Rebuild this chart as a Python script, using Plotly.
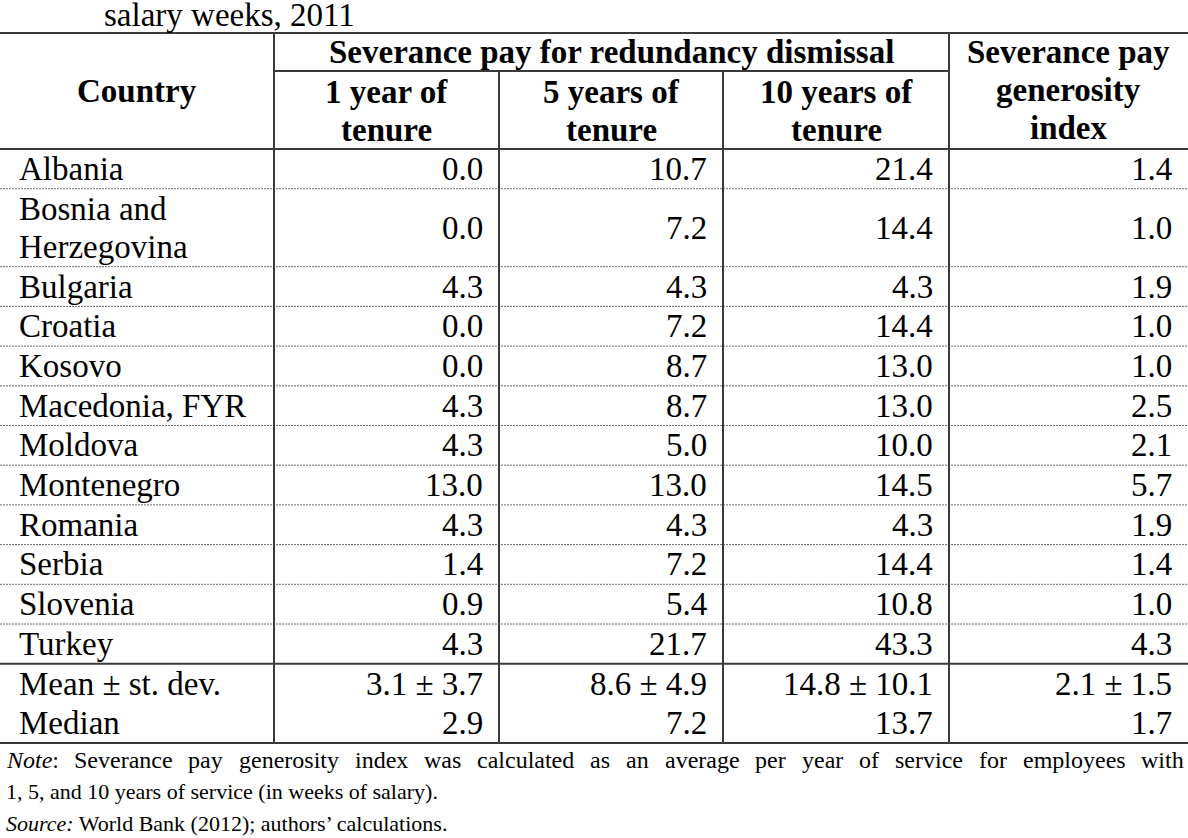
import re
import plotly.graph_objects as go

# ---------------- data ----------------
title_text = "salary weeks, 2011"
countries = ["Albania", "Bosnia and|Herzegovina", "Bulgaria", "Croatia", "Kosovo",
             "Macedonia, FYR", "Moldova", "Montenegro", "Romania", "Serbia",
             "Slovenia", "Turkey"]
tenure_1 = [0.0, 0.0, 4.3, 0.0, 0.0, 4.3, 4.3, 13.0, 4.3, 1.4, 0.9, 4.3]
tenure_5 = [10.7, 7.2, 4.3, 7.2, 8.7, 8.7, 5.0, 13.0, 4.3, 7.2, 5.4, 21.7]
tenure_10 = [21.4, 14.4, 4.3, 14.4, 13.0, 13.0, 10.0, 14.5, 4.3, 14.4, 10.8, 43.3]
gen_index = [1.4, 1.0, 1.9, 1.0, 1.0, 2.5, 2.1, 5.7, 1.9, 1.4, 1.0, 4.3]
summary_labels = ["Mean \u00b1 st. dev.", "Median"]
mean_sd = ["3.1 \u00b1 3.7", "8.6 \u00b1 4.9", "14.8 \u00b1 10.1", "2.1 \u00b1 1.5"]
median = [2.9, 7.2, 13.7, 1.7]
group_header = "Severance pay for redundancy dismissal"
col_headers = ["Country", "1 year of|tenure", "5 years of|tenure", "10 years of|tenure",
               "Severance pay|generosity|index"]
note_line1 = ("<i>Note</i>: Severance pay generosity index was calculated as an average "
              "per year of service for employees with")
note_line2 = "1, 5, and 10 years of service (in weeks of salary)."
note_line3 = "<i>Source:</i> World Bank (2012); authors\u2019 calculations."

# ---------------- layout constants ----------------
W, H = 1188, 838
FONT = "Liberation Serif, Times New Roman, serif"
FS = 33
NOTE_FS1 = 24
NOTE_FS = 22
col_edges = [0, 274, 499, 723, 949, 1188]
y_top, y_group, y_head = 33, 71, 149
row_h = 39.7
line_pitch = 38
pad_r = 15
pad_l = 18
dark = "#3a3a3a"

fig = go.Figure()
fig.add_trace(go.Scatter(x=[0, W], y=[0, H], mode="markers",
                         marker=dict(opacity=0), hoverinfo="skip", showlegend=False))

ann = []
shapes = []


def text(x, y, s, anchor="left", size=FS, bold=False):
    if bold:
        s = "<b>" + s + "</b>"
    ann.append(dict(x=x, y=y, xref="x", yref="y", text=s, showarrow=False,
                    xanchor=anchor, yanchor="middle", borderpad=0,
                    font=dict(family=FONT, size=size, color="black")))


def hline(y, x0=0, x1=W, dotted=False):
    if dotted:
        shapes.append(dict(type="line", xref="x", yref="y", x0=x0, x1=x1, y0=y, y1=y,
                           line=dict(color="#6a6a6a", width=1, dash="2px,1px")))
    else:
        shapes.append(dict(type="line", xref="x", yref="y", x0=x0, x1=x1, y0=y, y1=y,
                           line=dict(color=dark, width=2)))


def vline(x, y0, y1):
    shapes.append(dict(type="line", xref="x", yref="y", x0=x, x1=x, y0=y0, y1=y1,
                       line=dict(color=dark, width=2)))


def multiline(x, yc, s, anchor, bold=False):
    parts = s.split("|")
    n = len(parts)
    for i, p in enumerate(parts):
        text(x, yc + (i - (n - 1) / 2) * line_pitch, p, anchor=anchor, bold=bold)


# title
text(103, 15, title_text)

# header
hline(y_top)
hline(y_group, col_edges[1], col_edges[4])
hline(y_head)
head_mid = (y_top + y_head) / 2
multiline(col_edges[0] + (col_edges[1] - col_edges[0]) / 2, head_mid, col_headers[0], "center", True)
text((col_edges[1] + col_edges[4]) / 2, (y_top + y_group) / 2, group_header, "center", bold=True)
for c in range(1, 4):
    multiline((col_edges[c] + col_edges[c + 1]) / 2, (y_group + y_head) / 2 + 1,
              col_headers[c], "center", True)
multiline((col_edges[4] + col_edges[5]) / 2, head_mid - 1, col_headers[4], "center", True)

# body rows
y = y_head
cols = [tenure_1, tenure_5, tenure_10, gen_index]
for i, name in enumerate(countries):
    nlines = len(name.split("|"))
    h = row_h if nlines == 1 else line_pitch * 2 + 2
    yc = y + h / 2
    multiline(pad_l, yc, name, "left")
    for c, vals in enumerate(cols):
        text(col_edges[c + 2] - pad_r, yc, f"{vals[i]:.1f}", "right")
    y += h
    if i < len(countries) - 1:
        hline(y, dotted=True)
    else:
        hline(y)

# summary rows
sum_vals = [mean_sd, [f"{v:.1f}" for v in median]]
for r, lab in enumerate(summary_labels):
    yc = y + row_h / 2
    text(pad_l, yc, lab, "left")
    for c in range(4):
        text(col_edges[c + 2] - pad_r, yc, sum_vals[r][c], "right")
    y += row_h
y_bottom = y
hline(y_bottom)

# vertical rules
vline(col_edges[1], y_top, y_bottom)
vline(col_edges[2], y_group, y_bottom)
vline(col_edges[3], y_group, y_bottom)
vline(col_edges[4], y_top, y_bottom)

# notes: line 1 justified across the full width
TW = {' ': 250, 'a': 444, 'b': 500, 'c': 444, 'd': 500, 'e': 444, 'f': 333, 'g': 500,
      'h': 500, 'i': 278, 'j': 278, 'k': 500, 'l': 278, 'm': 778, 'n': 500, 'o': 500,
      'p': 500, 'q': 500, 'r': 333, 's': 389, 't': 278, 'u': 500, 'v': 500, 'w': 722,
      'x': 500, 'y': 500, 'z': 444, 'N': 667, 'S': 556, ':': 278, ',': 250, '.': 250}


def width(s, size):
    s = re.sub(r"<[^>]+>", "", s)
    return sum(TW.get(ch, 500) for ch in s) * size / 1000.0


words = note_line1.split(" ")
x_left, x_right = 5, 1183
total = sum(width(w_, NOTE_FS1) for w_ in words)
gap = (x_right - x_left - total) / (len(words) - 1)
xpos = x_left
note_y = y_bottom + 17
for w_ in words:
    text(xpos, note_y, w_, "left", size=NOTE_FS1)
    xpos += width(w_, NOTE_FS1) + gap
text(x_left, note_y + 31, note_line2, "left", size=NOTE_FS)
text(x_left, note_y + 63, note_line3, "left", size=NOTE_FS)

fig.update_layout(
    width=W, height=H, margin=dict(l=0, r=0, t=0, b=0),
    paper_bgcolor="white", plot_bgcolor="white",
    xaxis=dict(range=[0, W], visible=False, fixedrange=True),
    yaxis=dict(range=[H, 0], visible=False, fixedrange=True),
    annotations=ann, shapes=shapes, showlegend=False,
)
fig.write_html("out.html", config={"displayModeBar": False},
               post_script="document.body.style.margin='0';document.body.style.overflow='hidden';")
